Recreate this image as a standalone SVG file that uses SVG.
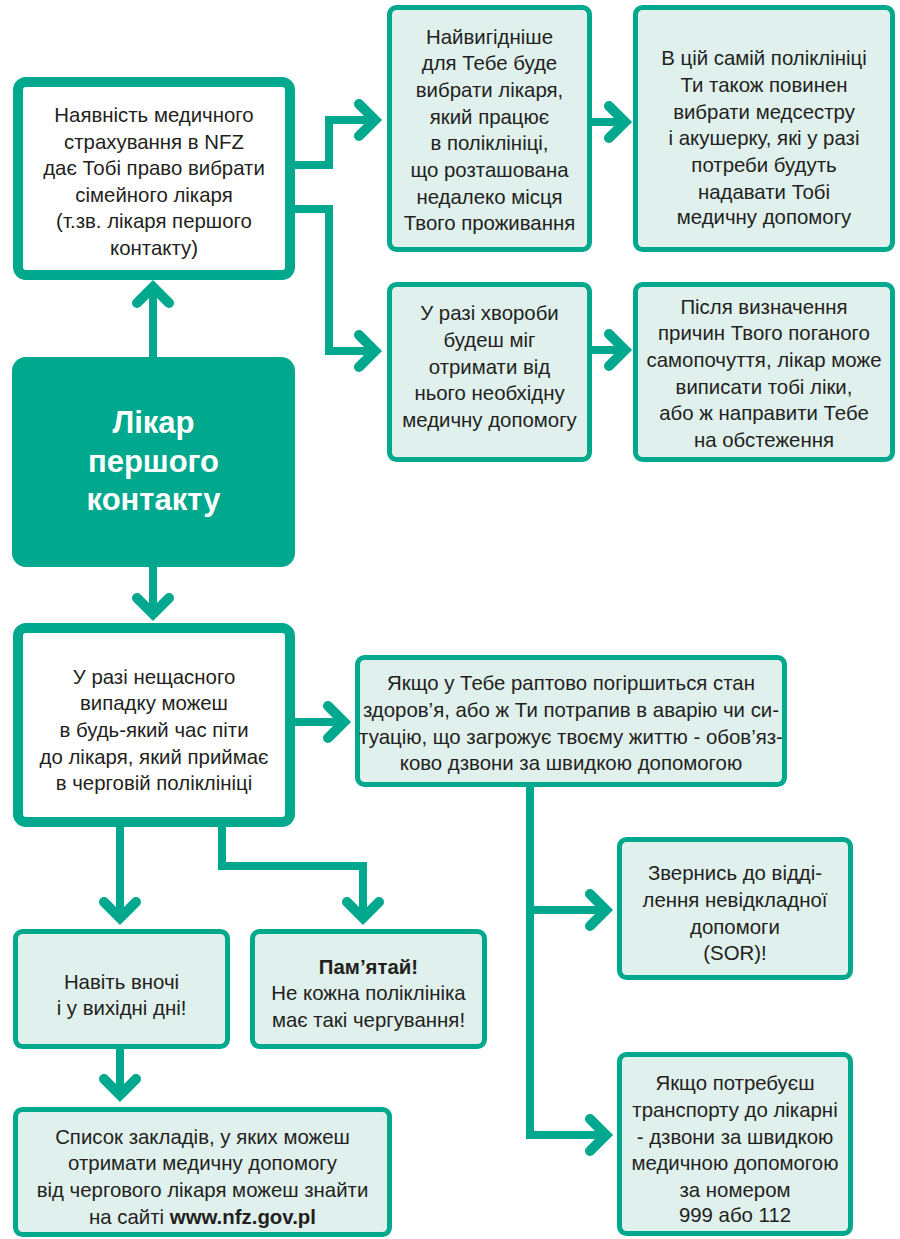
<svg xmlns="http://www.w3.org/2000/svg" width="900" height="1239" viewBox="0 0 900 1239">
<defs>
<style>
.thick{fill:#ffffff;stroke:#00a88e;stroke-width:10}
.light{fill:#dff0ed;stroke:#00a88e;stroke-width:5}
.main{fill:#00a88e}
.t{font-family:"Liberation Sans",Arial,sans-serif;font-size:20.4px;fill:#231f20;text-anchor:middle}
.b{font-weight:bold}
.mt{font-family:"Liberation Sans",Arial,sans-serif;font-size:31px;font-weight:bold;fill:#ffffff;text-anchor:middle}
.c{fill:none;stroke:#00a88e;stroke-width:8;stroke-linejoin:miter;marker-end:url(#arr)}
</style>
<marker id="arr" markerUnits="userSpaceOnUse" orient="auto" overflow="visible" markerWidth="40" markerHeight="40" refX="0" refY="0">
<path d="M-16,-16 L0,0 L-16,16" fill="none" stroke="#00a88e" stroke-width="10" stroke-linecap="round" stroke-linejoin="miter"/>
</marker>
</defs>
<rect width="900" height="1239" fill="#ffffff"/>

<g id="connectors">
<path class="c" d="M153,357 V287"/>
<path class="c" d="M153,567 V614"/>
<path class="c" d="M295,165 H329 V120 H375"/>
<path class="c" d="M295,209 H329 V351 H375"/>
<path class="c" d="M592,122 H625"/>
<path class="c" d="M592,350 H625"/>
<path class="c" d="M295,722 H344"/>
<path class="c" d="M120,827 V918"/>
<path class="c" d="M222,827 V866 H363 V918"/>
<path class="c" d="M530,787 V1135 H606"/>
<path class="c" d="M530,910 H606"/>
<path class="c" d="M120,1049 V1095"/>
</g>

<g id="n1">
<rect class="thick" x="18" y="82" width="272" height="193" rx="8"/>
<text class="t"><tspan x="154" y="122">Наявність медичного</tspan><tspan x="154" y="149">страхування в NFZ</tspan><tspan x="154" y="175">дає Тобі право вибрати</tspan><tspan x="154" y="202">сімейного лікаря</tspan><tspan x="154" y="228">(т.зв. лікаря першого</tspan><tspan x="154" y="255">контакту)</tspan></text>
</g>

<g id="n-main">
<rect class="main" x="12" y="357" width="283" height="210" rx="14"/>
<text class="mt"><tspan x="153.5" y="433">Лікар</tspan><tspan x="153.5" y="472">першого</tspan><tspan x="153.5" y="510">контакту</tspan></text>
</g>

<g id="n2">
<rect class="light" x="389.5" y="7.5" width="200" height="242" rx="7"/>
<text class="t"><tspan x="489.5" y="44">Найвигідніше</tspan><tspan x="489.5" y="70">для Тебе буде</tspan><tspan x="489.5" y="97">вибрати лікаря,</tspan><tspan x="489.5" y="124">який працює</tspan><tspan x="489.5" y="150">в поліклініці,</tspan><tspan x="489.5" y="177">що розташована</tspan><tspan x="489.5" y="204">недалеко місця</tspan><tspan x="489.5" y="230">Твого проживання</tspan></text>
</g>

<g id="n3">
<rect class="light" x="635.5" y="7.5" width="257" height="242" rx="7"/>
<text class="t"><tspan x="764" y="65">В цій самій поліклініці</tspan><tspan x="764" y="92">Ти також повинен</tspan><tspan x="764" y="119">вибрати медсестру</tspan><tspan x="764" y="145">і акушерку, які у разі</tspan><tspan x="764" y="172">потреби будуть</tspan><tspan x="764" y="199">надавати Тобі</tspan><tspan x="764" y="224">медичну допомогу</tspan></text>
</g>

<g id="n4">
<rect class="light" x="389.5" y="284.5" width="200" height="175" rx="7"/>
<text class="t"><tspan x="489.5" y="320">У разі хвороби</tspan><tspan x="489.5" y="347">будеш міг</tspan><tspan x="489.5" y="374">отримати від</tspan><tspan x="489.5" y="400">нього необхідну</tspan><tspan x="489.5" y="427">медичну допомогу</tspan></text>
</g>

<g id="n5">
<rect class="light" x="635.5" y="284.5" width="257" height="175" rx="7"/>
<text class="t"><tspan x="764" y="314">Після визначення</tspan><tspan x="764" y="340">причин Твого поганого</tspan><tspan x="764" y="367">самопочуття, лікар може</tspan><tspan x="764" y="394">виписати тобі ліки,</tspan><tspan x="764" y="420">або ж направити Тебе</tspan><tspan x="764" y="447">на обстеження</tspan></text>
</g>

<g id="n6">
<rect class="thick" x="18" y="628" width="272" height="194" rx="8"/>
<text class="t"><tspan x="154" y="684">У разі нещасного</tspan><tspan x="154" y="710">випадку можеш</tspan><tspan x="154" y="737">в будь-який час піти</tspan><tspan x="154" y="764">до лікаря, який приймає</tspan><tspan x="154" y="790">в черговій поліклініці</tspan></text>
</g>

<g id="n7">
<rect class="light" x="357.5" y="657.5" width="427" height="127" rx="7"/>
<text class="t"><tspan x="571" y="690">Якщо у Тебе раптово погіршиться стан</tspan><tspan x="571" y="717">здоров’я, або ж Ти потрапив в аварію чи си-</tspan><tspan x="571" y="744">туацію, що загрожує твоєму життю - обов’яз-</tspan><tspan x="571" y="770">ково дзвони за швидкою допомогою</tspan></text>
</g>

<g id="n8">
<rect class="light" x="619.5" y="839.5" width="231" height="138" rx="7"/>
<text class="t"><tspan x="735" y="880">Звернись до відді-</tspan><tspan x="735" y="907">лення невідкладної</tspan><tspan x="735" y="934">допомоги</tspan><tspan x="735" y="960">(SOR)!</tspan></text>
</g>

<g id="n9">
<rect class="light" x="619.5" y="1054.5" width="231" height="179" rx="7"/>
<text class="t"><tspan x="735" y="1090">Якщо потребуєш</tspan><tspan x="735" y="1117">транспорту до лікарні</tspan><tspan x="735" y="1144">- дзвони за швидкою</tspan><tspan x="735" y="1170">медичною допомогою</tspan><tspan x="735" y="1197">за номером</tspan><tspan x="735" y="1222">999 або 112</tspan></text>
</g>

<g id="n10">
<rect class="light" x="15.5" y="931.5" width="212" height="115" rx="7"/>
<text class="t"><tspan x="121.5" y="989">Навіть вночі</tspan><tspan x="121.5" y="1015">і у вихідні дні!</tspan></text>
</g>

<g id="n11">
<rect class="light" x="252.5" y="931.5" width="232" height="115" rx="7"/>
<text class="t"><tspan x="368.5" y="974" class="b">Пам’ятай!</tspan><tspan x="368.5" y="1000">Не кожна поліклініка</tspan><tspan x="368.5" y="1027">має такі чергування!</tspan></text>
</g>

<g id="n12">
<rect class="light" x="15.5" y="1109.5" width="374" height="125" rx="7"/>
<text class="t"><tspan x="202.5" y="1144">Список закладів, у яких можеш</tspan><tspan x="202.5" y="1170">отримати медичну допомогу</tspan><tspan x="202.5" y="1197">від чергового лікаря можеш знайти</tspan><tspan x="202.5" y="1224">на сайті <tspan class="b">www.nfz.gov.pl</tspan></tspan></text>
</g>
</svg>
